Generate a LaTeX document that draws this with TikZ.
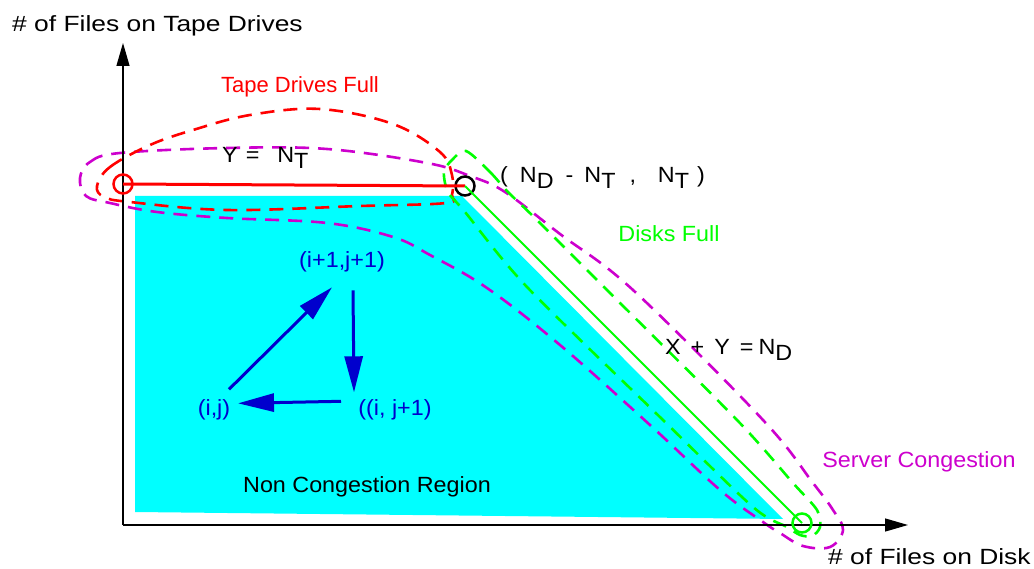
\documentclass[tikz,border=0pt]{standalone}
\usepackage{fontspec}
\setmainfont{Liberation Sans}
\newfontfamily\lf[FakeStretch=1.06]{Liberation Sans}
\newfontfamily\af[FakeStretch=1.2]{Liberation Sans}
\usetikzlibrary{arrows.meta,calc}
\definecolor{xmag}{RGB}{205,0,205}
\definecolor{xblue}{RGB}{0,0,205}
\definecolor{xgreen}{RGB}{0,255,0}
\definecolor{xcyan}{RGB}{0,255,255}
\definecolor{xred}{RGB}{255,0,0}
\newcommand\lsub[1]{\raisebox{-6pt}{#1}}
\begin{document}
\begin{tikzpicture}[x=1pt,y=-1pt,
  lab/.style={font=\lf\fontsize{22}{26}\selectfont, inner sep=0pt},
  axlab/.style={font=\af\fontsize{22}{26}\selectfont, inner sep=0pt},
  bluelab/.style={lab, text=xblue},
  dsh/.style={line width=2.6pt, dash pattern=on 14pt off 9pt},
  ring/.style={circle, draw, line width=2.5pt, minimum size=19pt, inner sep=0pt},
  axisline/.style={line width=1.3pt, -{Triangle[length=23pt,width=13pt]}},
  barrow/.style={xblue, line width=3pt, -{Triangle[length=36pt,width=18pt]}}
]
\useasboundingbox (0,0) rectangle (1034,569);

% non congestion region
\fill[xcyan] (135,196) -- (462,196) -- (783,519) -- (135,512) -- cycle;

% dashed regions
\draw[xmag,dsh] plot[smooth cycle, tension=0.6] coordinates {(80,178) (90,162) (120,153) (227,148) (327,149) (427,163) (470,176) (505,192) (560,234) (633,290) (763,420) (813,483) (833,510) (843,530) (830,547) (803,546) (780,533) (763,522) (720,490) (650,425) (560,345) (487,288) (430,255) (393,237) (327,223) (227,218) (157,212) (110,203) (86,196)};
\draw[xred,dsh] plot[smooth cycle, tension=0.6] coordinates {(97,186) (110,167) (150,145) (193,130) (250,115) (320,109) (393,124) (440,152) (452,175) (452,195) (446,203) (360,206) (227,210) (130,202) (104,197)};
\draw[xgreen,dsh] plot[smooth cycle, tension=0.5] coordinates {(466,151) (490,172) (508,192) (537,220) (607,290) (737,420) (793,483) (817,510) (820,527) (812,536) (800,535) (787,527) (753,507) (663,420) (527,287) (465,212) (448,192) (444,172) (452,160)};

% axes
\coordinate (O) at (123,525);
\coordinate (ytip) at (123,43);
\coordinate (xtip) at (908,525);
\draw[axisline] (O) -- (ytip);
\draw[axisline] (O) -- (xtip);

% boundary points
\node[ring, draw=xred] (rc) at (123,184) {};
\node[ring, draw=black] (bc) at (465,186) {};
\node[ring, draw=xgreen] (gc) at (802,523) {};
\draw[xred, line width=3pt] (rc.center) -- (bc.center);
\draw[xgreen, line width=2pt] (bc.center) -- (gc.center);

% labels
\node[axlab, anchor=base west] (ylab) at (12,32) {\# of Files on Tape Drives};
\node[axlab, anchor=base west] (xlab) at (828,564) {\# of Files on Disk};
\node[lab, font=\fontsize{22}{26}\selectfont, text=xred, anchor=base] (tdf) at (300,93) {Tape Drives Full};
\node[lab, anchor=base west] (yeq) at (222,163) {Y\hspace{8pt}=\hspace{18pt}N\lsub{T}};
\node[lab, anchor=base west] (pt) at (500,183) {(\hspace{12pt}N\lsub{D}\hspace{12pt}-\hspace{11pt}N\lsub{T}\hspace{14pt},\hspace{22pt}N\lsub{T}\hspace{8pt})};
\node[lab, text=xgreen, anchor=base] (dfull) at (669,242) {Disks Full};
\node[lab, anchor=base west] (xeq) at (665,355) {X\hspace{10pt}+\hspace{10pt}Y\hspace{10pt}=\hspace{5pt}N\lsub{D}};
\node[lab, text=xmag, anchor=base] (scong) at (919,467) {Server Congestion};
\node[lab, anchor=base] (ncr) at (367,492) {Non Congestion Region};

% state transitions
\node[bluelab, anchor=base] (ip) at (342,268) {(i+1,j+1)};
\node[bluelab, anchor=base] (ij) at (214,416) {(i,j)};
\node[bluelab, anchor=base] (ijp) at (395,416) {((i, j+1)};
\draw[barrow] ($(ij)+(15,-21)$) -- ($(ip)+(-10,25)$);
\draw[barrow] ($(ip)+(11,28)$) -- ($(ijp)+(-41,-18)$);
\draw[barrow] ($(ijp)+(-54,-9)$) -- ($(ij)+(24,-7)$);
\end{tikzpicture}
\end{document}
